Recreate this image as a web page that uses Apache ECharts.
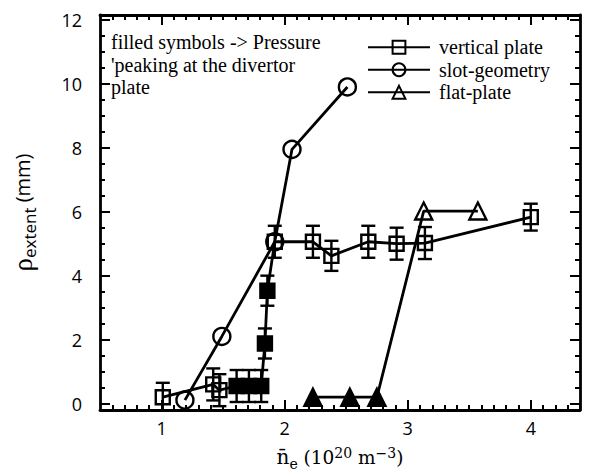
<!DOCTYPE html>
<html>
<head>
<meta charset="utf-8">
<script src="https://cdn.jsdelivr.net/npm/echarts@6/dist/echarts.min.js"></script>
<style>
  html, body { margin: 0; padding: 0; background: #fff; }
  #chart { width: 592px; height: 476px; }
</style>
</head>
<body>
<div id="chart"></div>
<script>
// Tick labels
const xTickValues = [1, 2, 3, 4];
const yTickValues = [0, 2, 4, 6, 8, 10, 12];

// vertical plate (squares); filled = pressure peaking at the divertor plate
const vpX      = [1.01, 1.42, 1.47, 1.61, 1.71, 1.81, 1.84, 1.86, 1.92, 2.23, 2.38, 2.68, 2.91, 3.14, 4.0];
const vpY      = [0.2, 0.6, 0.42, 0.55, 0.55, 0.55, 1.88, 3.53, 5.06, 5.06, 4.62, 5.06, 5.0, 5.02, 5.83];
const vpErr    = [0.45, 0.5, 0.5, 0.5, 0.5, 0.5, 0.47, 0.47, 0.5, 0.5, 0.47, 0.5, 0.5, 0.5, 0.42];
const vpFilled = [0, 0, 0, 1, 1, 1, 1, 1, 0, 0, 0, 0, 0, 0, 0];

// slot geometry (circles)
const sgX = [1.19, 1.49, 1.92, 2.06, 2.51];
const sgY = [0.11, 2.1, 5.06, 7.95, 9.9];

// flat plate (triangles)
const fpX      = [2.23, 2.53, 2.75, 3.13, 3.57];
const fpY      = [0.2, 0.2, 0.2, 6.02, 6.02];
const fpFilled = [1, 1, 1, 0, 0];

const X_MIN = 0.5, X_MAX = 4.4;
const Y_MIN = -0.2, Y_MAX = 12.15;

function steps(from, to, step) {
  const out = [];
  for (let v = from; v <= to + 1e-9; v += step) out.push(Math.round(v * 100) / 100);
  return out;
}
const xMinor = steps(0.6, 4.4, 0.1).filter(v => Math.abs(v - Math.round(v)) > 1e-6);
const yMinor = steps(0, 12, 0.5).filter(v => v % 2 !== 0);

const BLACK = '#000';
const HOLLOW = 'rgba(255,255,255,0)';
const SERIF = '"Liberation Serif", "Times New Roman", serif';
const SANS = '"Open Sans", "Noto Sans", sans-serif';

function points(xs, ys, filled) {
  return xs.map((x, i) => {
    const item = { value: [x, ys[i]] };
    if (filled && filled[i]) item.itemStyle = { color: BLACK };
    return item;
  });
}

function makeXAxis(position, ticks, len, line, labels) {
  return {
    type: 'value', position, min: X_MIN, max: X_MAX,
    axisLine: { show: line, onZero: false, lineStyle: { color: BLACK, width: 2.8 } },
    axisTick: { show: true, inside: true, length: len, customValues: ticks, lineStyle: { color: BLACK, width: 2 } },
    axisLabel: labels
      ? { show: true, customValues: xTickValues, color: BLACK, fontFamily: SANS, fontSize: 18, margin: 9 }
      : { show: false },
    splitLine: { show: false }
  };
}
function makeYAxis(position, ticks, len, line, labels) {
  return {
    type: 'value', position, min: Y_MIN, max: Y_MAX,
    axisLine: { show: line, onZero: false, lineStyle: { color: BLACK, width: 2.8 } },
    axisTick: { show: true, inside: true, length: len, customValues: ticks, lineStyle: { color: BLACK, width: 2 } },
    axisLabel: labels
      ? { show: true, customValues: yTickValues, color: BLACK, fontFamily: SANS, fontSize: 18, margin: 18 }
      : { show: false },
    splitLine: { show: false }
  };
}

const xAxes = [
  makeXAxis('bottom', xTickValues, 10, true, true),
  makeXAxis('bottom', xMinor, 5, false, false),
  makeXAxis('top', xTickValues, 10, true, false),
  makeXAxis('top', xMinor, 5, false, false)
];
xAxes[0].name = '{n|n̄}{sub|e}{t| (10}{sup|20}{t| m}{sup|−3}{t|)}';
xAxes[0].nameLocation = 'middle';
xAxes[0].nameGap = 33;
xAxes[0].nameTextStyle = {
  color: BLACK,
  rich: {
    n:   { fontFamily: '"DejaVu Serif", serif', fontSize: 20, color: BLACK },
    t:   { fontFamily: '"DejaVu Serif", serif', fontSize: 18.5, color: BLACK },
    sub: { fontFamily: '"DejaVu Serif", serif', fontSize: 14, color: BLACK, padding: [14, 0, 0, 0] },
    sup: { fontFamily: '"DejaVu Serif", serif', fontSize: 14, color: BLACK, padding: [0, 0, 9, 0] }
  }
};

const yAxes = [
  makeYAxis('left', yTickValues, 10, true, true),
  makeYAxis('left', yMinor, 5, false, false),
  makeYAxis('right', yTickValues, 10, true, false),
  makeYAxis('right', yMinor, 5, false, false)
];
yAxes[0].name = '{r|ρ}{sub|extent}{t| (mm)}';
yAxes[0].nameLocation = 'middle';
yAxes[0].nameGap = 62;
yAxes[0].nameTextStyle = {
  color: BLACK,
  rich: {
    r:   { fontFamily: SERIF, fontSize: 27, color: BLACK },
    t:   { fontFamily: SANS, fontSize: 20, color: BLACK },
    sub: { fontFamily: SANS, fontSize: 17, color: BLACK, padding: [14, 0, 0, 0] }
  }
};

// vertical error bars with caps
const errData = vpX.map((x, i) => [x, vpY[i] - vpErr[i], vpY[i] + vpErr[i]]);

function lineSeries(name, xs, ys, filled, symbol, size) {
  return {
    name, type: 'line', xAxisIndex: 0, yAxisIndex: 0,
    data: points(xs, ys, filled),
    symbol, symbolSize: size, showSymbol: true,
    lineStyle: { color: BLACK, width: 2.8 },
    itemStyle: { color: HOLLOW, borderColor: BLACK, borderWidth: 2.4 },
    emphasis: { disabled: true },
    z: 3, clip: true,
    animation: false
  };
}

const option = {
  animation: false,
  backgroundColor: '#fff',
  grid: { left: 100, top: 15, right: 12, bottom: 64, containLabel: false },
  xAxis: xAxes,
  yAxis: yAxes,
  legend: {
    orient: 'vertical', left: 362, top: 31, itemGap: 0,
    itemWidth: 62, itemHeight: 16,
    textStyle: { fontFamily: SERIF, fontSize: 20, lineHeight: 22.5, color: BLACK, padding: [0, 0, 0, 4] },
    data: ['vertical plate', 'slot-geometry', 'flat-plate']
  },
  graphic: [{
    type: 'text', left: 111, top: 31,
    style: {
      text: "filled symbols -> Pressure\n'peaking at the divertor\nplate",
      fontFamily: SERIF, fontSize: 20, lineHeight: 22.5, fill: BLACK
    }
  }],
  series: [
    lineSeries('vertical plate', vpX, vpY, vpFilled, 'rect', 14),
    lineSeries('slot-geometry', sgX, sgY, null, 'circle', 17),
    lineSeries('flat-plate', fpX, fpY, fpFilled, 'triangle', 17),
    {
      type: 'custom', xAxisIndex: 0, yAxisIndex: 0, z: 4,
      data: errData,
      renderItem: function (params, api) {
        const x = api.value(0);
        const lo = api.coord([x, api.value(1)]);
        const hi = api.coord([x, api.value(2)]);
        const cap = 7;
        const style = { stroke: BLACK, lineWidth: 2.4 };
        return {
          type: 'group',
          children: [
            { type: 'line', shape: { x1: lo[0], y1: lo[1], x2: hi[0], y2: hi[1] }, style },
            { type: 'line', shape: { x1: lo[0] - cap, y1: lo[1], x2: lo[0] + cap, y2: lo[1] }, style },
            { type: 'line', shape: { x1: hi[0] - cap, y1: hi[1], x2: hi[0] + cap, y2: hi[1] }, style }
          ]
        };
      },
      clip: true,
      silent: true
    }
  ]
};

const chart = echarts.init(document.getElementById('chart'), null, { renderer: 'svg' });
chart.setOption(option);
</script>
</body>
</html>
